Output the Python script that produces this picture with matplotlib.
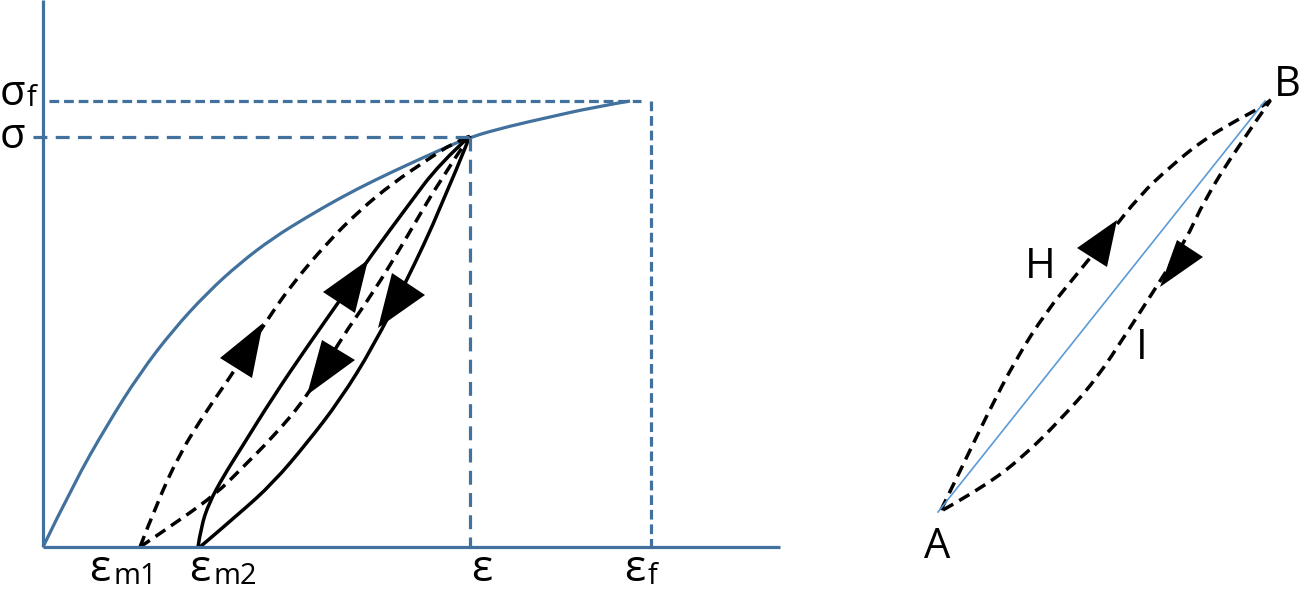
import matplotlib.pyplot as plt
from matplotlib.path import Path
from matplotlib.patches import PathPatch

plt.rcParams['lines.scale_dashes'] = False
FUENTE = ['Open Sans', 'DejaVu Sans']
AZUL = '#41719c'
AZUL_CLARO = '#5b9bd5'

# --- diagrama izquierdo: deformación / tensión (unidades arbitrarias) ---
eps_m1 = 97
eps_m2 = 155
eps = 427
eps_f = 608
sig = 410
sig_f = 446

curva_x = [0, 30, 64, 97, 130, 164, 197, 230, 264, 297, 330, 364, 397, 427, 467, 507, 547, 587]
curva_y = [0, 62, 122, 174, 217, 254, 284, 309, 330, 349, 366, 382, 397, 410, 421, 430, 439, 446]

# ciclo discontinuo desde eps_m1
carga1_x = [97, 114, 137, 164, 190, 224, 250, 284, 317, 350, 384, 410, 427]
carga1_y = [0, 44, 94, 137, 174, 227, 264, 304, 337, 364, 387, 404, 411]
descarga1_x = [97, 137, 174, 197, 230, 264, 297, 330, 364, 397, 427]
descarga1_y = [0, 27, 54, 77, 110, 150, 207, 254, 310, 367, 411]

# ciclo continuo desde eps_m2
carga2_x = [155, 158, 166, 180, 197, 230, 264, 297, 330, 364, 397, 427]
carga2_y = [0, 20, 44, 70, 97, 150, 200, 247, 294, 340, 384, 411]
descarga2_x = [157, 197, 230, 264, 297, 330, 364, 397, 427]
descarga2_y = [0, 34, 64, 104, 147, 200, 267, 337, 411]

flechas_izq = [
    [(220, 224), (177, 189), (209, 169)],
    [(325, 287), (280, 255), (312, 234)],
    [(279, 207), (312, 187), (264, 152)],
    [(349, 274), (382, 252), (335, 219)],
]

# --- diagrama derecho: ciclo A-B ---
A = (38, 80)
B = (365, 491)
rama_H_x = [41, 63, 87, 116, 146, 177, 207, 240, 270, 303, 337, 362, 372]
rama_H_y = [82, 127, 177, 233, 280, 318, 355, 397, 425, 452, 472, 485, 493]
rama_I_x = [43, 87, 125, 160, 195, 228, 253, 285, 305, 337, 370]
rama_I_y = [82, 107, 137, 172, 211, 261, 300, 350, 393, 444, 491]
flechas_der = [
    [(217, 372), (177, 344), (207, 325)],
    [(277, 352), (303, 335), (260, 305)],
]


def trazo_suave(ax, xs, ys, **kw):
    # curva cuadrática por los puntos medios (los puntos leídos hacen de control)
    pts = list(zip(xs, ys))
    verts = [pts[0]]
    codes = [Path.MOVETO]
    for i in range(1, len(pts) - 2):
        medio = ((pts[i][0] + pts[i + 1][0]) / 2, (pts[i][1] + pts[i + 1][1]) / 2)
        verts += [pts[i], medio]
        codes += [Path.CURVE3, Path.CURVE3]
    verts += [pts[-2], pts[-1]]
    codes += [Path.CURVE3, Path.CURVE3]
    ax.add_patch(PathPatch(Path(verts, codes), fill=False, clip_on=False,
                           joinstyle='round', capstyle='butt', **kw))


fig = plt.figure(figsize=(13, 5.92), dpi=100)

ax = fig.add_axes([43 / 1300, 45 / 592, 737 / 1300, 547 / 592])
ax.set_xlim(0, 737)
ax.set_ylim(0, 547)
ax.axis('off')

# ejes
ax.plot([0, 0], [0, 547], color=AZUL, lw=2.3, clip_on=False, solid_capstyle='butt')
ax.plot([0, 737], [0, 0], color=AZUL, lw=2.3, clip_on=False, solid_capstyle='butt')

# líneas de referencia
ax.plot([6, eps_f - 10], [sig_f, sig_f], color=AZUL, lw=2.3, dashes=(7, 3.5), clip_on=False)
ax.plot([eps_f, eps_f], [sig_f, 0], color=AZUL, lw=2.3, dashes=(7, 3.5), clip_on=False)
ax.plot([-10, eps], [sig, sig], color=AZUL, lw=2.3, dashes=(10, 6), clip_on=False)
ax.plot([eps, eps], [sig, 0], color=AZUL, lw=2.3, dashes=(10, 6), clip_on=False)

# curva de flujo
trazo_suave(ax, curva_x, curva_y, edgecolor=AZUL, lw=2.3)

# ciclos de histéresis
trazo_suave(ax, carga1_x, carga1_y, edgecolor='black', lw=2.5, linestyle=(0, (8.5, 5)))
trazo_suave(ax, descarga1_x, descarga1_y, edgecolor='black', lw=2.5, linestyle=(0, (8.5, 5)))
trazo_suave(ax, carga2_x, carga2_y, edgecolor='black', lw=2.5)
trazo_suave(ax, descarga2_x, descarga2_y, edgecolor='black', lw=2.5)
for tri in flechas_izq:
    ax.fill(*zip(*tri), color='black', lw=0)

# etiquetas
fs = 30
fs_eps = 32
fs_sub = 21
ax.text(-31, 453, 'σ', fontsize=fs, family=FUENTE, ha='center', va='center', clip_on=False)
ax.text(-12, 448, 'f', fontsize=fs_sub, family=FUENTE, ha='center', va='center', clip_on=False)
ax.text(-31, 410, 'σ', fontsize=fs, family=FUENTE, ha='center', va='center', clip_on=False)
ax.text(eps_m1 - 40, -23, 'ε', fontsize=fs_eps, family=FUENTE, ha='center', va='center', clip_on=False)
ax.text(eps_m1 - 26, -30, 'm1', fontsize=fs_sub, family=FUENTE, ha='left', va='center', clip_on=False)
ax.text(eps_m2 + 2, -23, 'ε', fontsize=fs_eps, family=FUENTE, ha='center', va='center', clip_on=False)
ax.text(eps_m2 + 15, -30, 'm2', fontsize=fs_sub, family=FUENTE, ha='left', va='center', clip_on=False)
ax.text(eps + 12, -23, 'ε', fontsize=fs_eps, family=FUENTE, ha='center', va='center', clip_on=False)
ax.text(eps_f - 16, -23, 'ε', fontsize=fs_eps, family=FUENTE, ha='center', va='center', clip_on=False)
ax.text(eps_f + 2, -30, 'f', fontsize=fs_sub, family=FUENTE, ha='center', va='center', clip_on=False)

# --- diagrama derecho ---
ax2 = fig.add_axes([900 / 1300, 0, 400 / 1300, 1])
ax2.set_xlim(0, 400)
ax2.set_ylim(0, 592)
ax2.axis('off')

ax2.plot([A[0], B[0]], [A[1], B[1]], color=AZUL_CLARO, lw=1.2)
trazo_suave(ax2, rama_H_x, rama_H_y, edgecolor='black', lw=2.5, linestyle=(0, (8.5, 5)))
trazo_suave(ax2, rama_I_x, rama_I_y, edgecolor='black', lw=2.5, linestyle=(0, (8.5, 5)))
for tri in flechas_der:
    ax2.fill(*zip(*tri), color='black', lw=0)

ax2.text(37, 45, 'A', fontsize=fs, family=FUENTE, ha='center', va='center')
ax2.text(387, 507, 'B', fontsize=fs, family=FUENTE, ha='center', va='center')
ax2.text(140, 325, 'H', fontsize=fs, family=FUENTE, ha='center', va='center')
ax2.text(242, 244, 'I', fontsize=fs, family=FUENTE, ha='center', va='center')

fig.savefig('out.png', dpi=100)
